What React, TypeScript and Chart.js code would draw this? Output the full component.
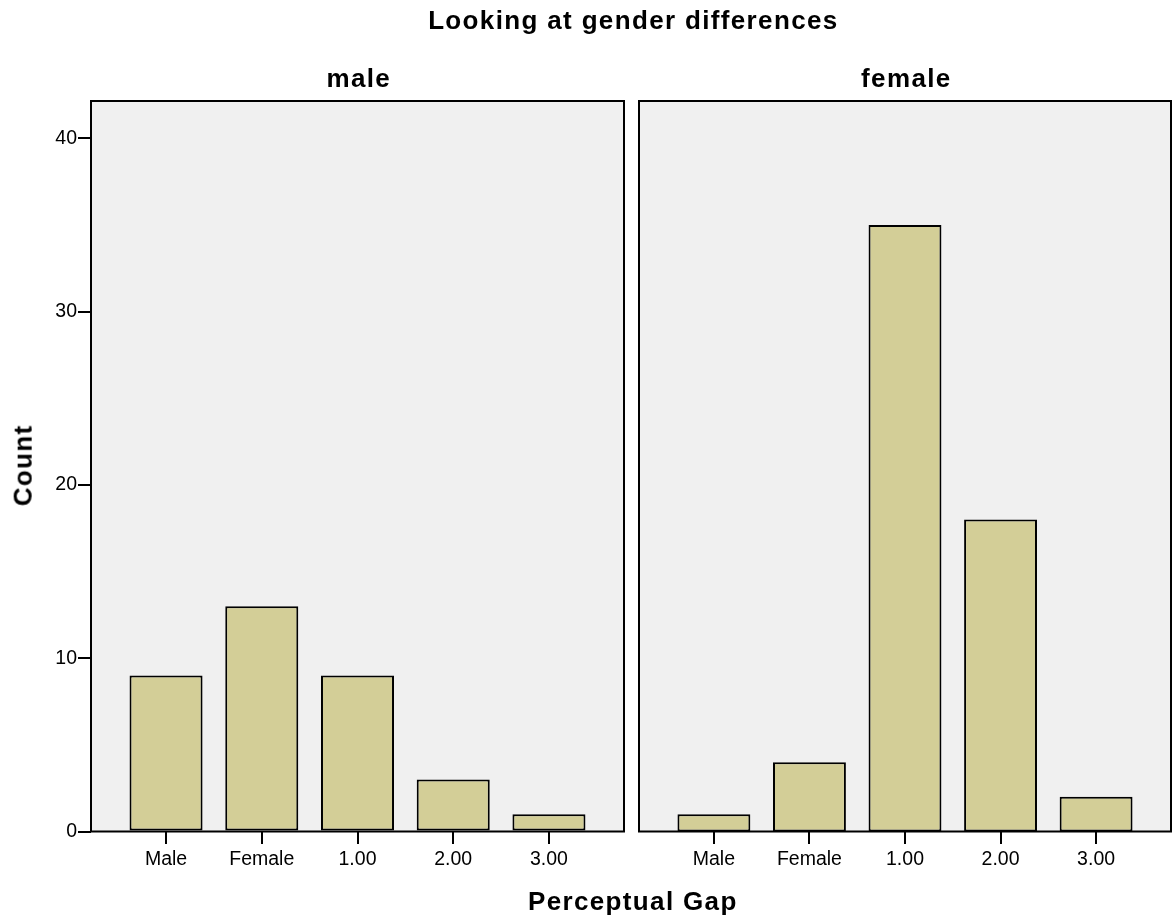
import React, { useEffect, useRef } from 'react';
import { Chart, registerables } from 'chart.js';

Chart.register(...registerables);

const categories = ['Male', 'Female', '1.00', '2.00', '3.00'];
const maleCounts = [9, 13, 9, 3, 1];
const femaleCounts = [1, 4, 35, 18, 2];
const yTicks = [0, 10, 20, 30, 40];
const panelTitles = ['male', 'female'];
const mainTitle = 'Looking at gender differences';
const xTitle = 'Perceptual Gap';
const yTitle = 'Count';

const FONT = '"Liberation Sans", Arial, Helvetica, sans-serif';
const BAR_FILL = '#d3ce97';
const PANEL_BG = '#f0f0f0';

const panelPlugin = {
  id: 'panelBox',
  beforeDraw(chart: any) {
    const { ctx, chartArea } = chart;
    const { left, top, right, bottom } = chartArea;
    ctx.save();
    ctx.fillStyle = PANEL_BG;
    ctx.fillRect(left, top, right - left, bottom - top);
    ctx.restore();
  },
  afterDraw(chart: any) {
    const { ctx, chartArea } = chart;
    const { left, top, right, bottom } = chartArea;
    ctx.save();
    ctx.strokeStyle = '#000';
    ctx.lineWidth = 2;
    ctx.strokeRect(left, top, right - left, bottom - top);
    ctx.restore();
  },
};

function makeConfig(values: number[], showY: boolean, padLeft: number, padRight: number): any {
  return {
    type: 'bar',
    data: {
      datasets: [
        {
          data: values.map((v, i) => ({ x: i, y: v })),
          backgroundColor: BAR_FILL,
          borderColor: '#000',
          borderWidth: 2,
          borderSkipped: false,
          categoryPercentage: 1,
          barPercentage: 0.763,
        },
      ],
    },
    options: {
      responsive: false,
      animation: false,
      layout: { padding: { top: 101, left: padLeft, right: padRight, bottom: 0 } },
      plugins: {
        legend: { display: false },
        tooltip: { enabled: false },
        title: { display: false },
      },
      scales: {
        x: {
          type: 'linear',
          min: -0.784,
          max: 4.784,
          offset: false,
          afterBuildTicks: (scale: any) => {
            scale.ticks = categories.map((_, i) => ({ value: i }));
          },
          afterFit: (scale: any) => {
            scale.height = 92.5;
          },
          grid: {
            offset: false,
            drawOnChartArea: false,
            drawTicks: true,
            tickLength: 12.5,
            color: '#000',
            lineWidth: 2,
          },
          border: { display: false },
          ticks: {
            autoSkip: false,
            maxRotation: 0,
            padding: 4,
            color: '#000',
            font: { family: FONT, size: 19.5 },
            callback: (value: any) => categories[value] ?? '',
          },
        },
        y: {
          type: 'linear',
          display: showY,
          min: 0,
          max: 42.15,
          afterBuildTicks: (scale: any) => {
            scale.ticks = yTicks.map((v) => ({ value: v }));
          },
          afterFit: (scale: any) => {
            if (showY) scale.width = 91;
          },
          grid: {
            drawOnChartArea: false,
            drawTicks: true,
            tickLength: 13,
            color: '#000',
            lineWidth: 2,
          },
          border: { display: false },
          ticks: {
            padding: 1,
            color: '#000',
            font: { family: FONT, size: 19.5 },
          },
        },
      },
    },
    plugins: [panelPlugin],
  };
}

function Panel({ values, showY, left, width, padLeft, padRight }: any) {
  const ref = useRef<HTMLCanvasElement | null>(null);
  useEffect(() => {
    if (!ref.current) return;
    const chart = new Chart(ref.current, makeConfig(values, showY, padLeft, padRight));
    return () => chart.destroy();
  }, []);
  return (
    <canvas
      ref={ref}
      width={width}
      height={924}
      style={{ position: 'absolute', left, top: 0, width, height: 924 }}
    />
  );
}

const FS = 26;
const LS = 1.35;
const boldText: React.CSSProperties = {
  position: 'absolute',
  fontFamily: FONT,
  fontWeight: 'bold',
  fontSize: FS,
  lineHeight: FS + 'px',
  letterSpacing: LS + 'px',
  paddingLeft: LS + 'px',
  color: '#000',
  textAlign: 'center',
  whiteSpace: 'nowrap',
};
// baseline offset from top of a line box of height FS
const BL = 0.8465 * FS;

export default function App() {
  return (
    <div
      style={{
        position: 'fixed',
        left: 0,
        top: 0,
        width: 1172,
        height: 924,
        background: '#fff',
        overflow: 'hidden',
      }}
    >
      <Panel values={maleCounts} showY={true} left={0} width={626} padLeft={0} padRight={2} />
      <Panel values={femaleCounts} showY={false} left={630} width={542} padLeft={9} padRight={1} />
      <div style={{ ...boldText, left: 332, width: 600, top: 29.3 - BL }}>{mainTitle}</div>
      <div style={{ ...boldText, left: 57.5, width: 600, top: 86.7 - BL }}>{panelTitles[0]}</div>
      <div style={{ ...boldText, left: 605, width: 600, top: 86.7 - BL }}>{panelTitles[1]}</div>
      <div style={{ ...boldText, left: 331.5, width: 600, top: 910 - BL }}>{xTitle}</div>
      <div
        style={{
          ...boldText,
          left: 22 - 100,
          width: 200,
          top: 466 - FS / 2,
          transform: 'rotate(-90deg)',
          transformOrigin: '50% 50%',
        }}
      >
        {yTitle}
      </div>
    </div>
  );
}
